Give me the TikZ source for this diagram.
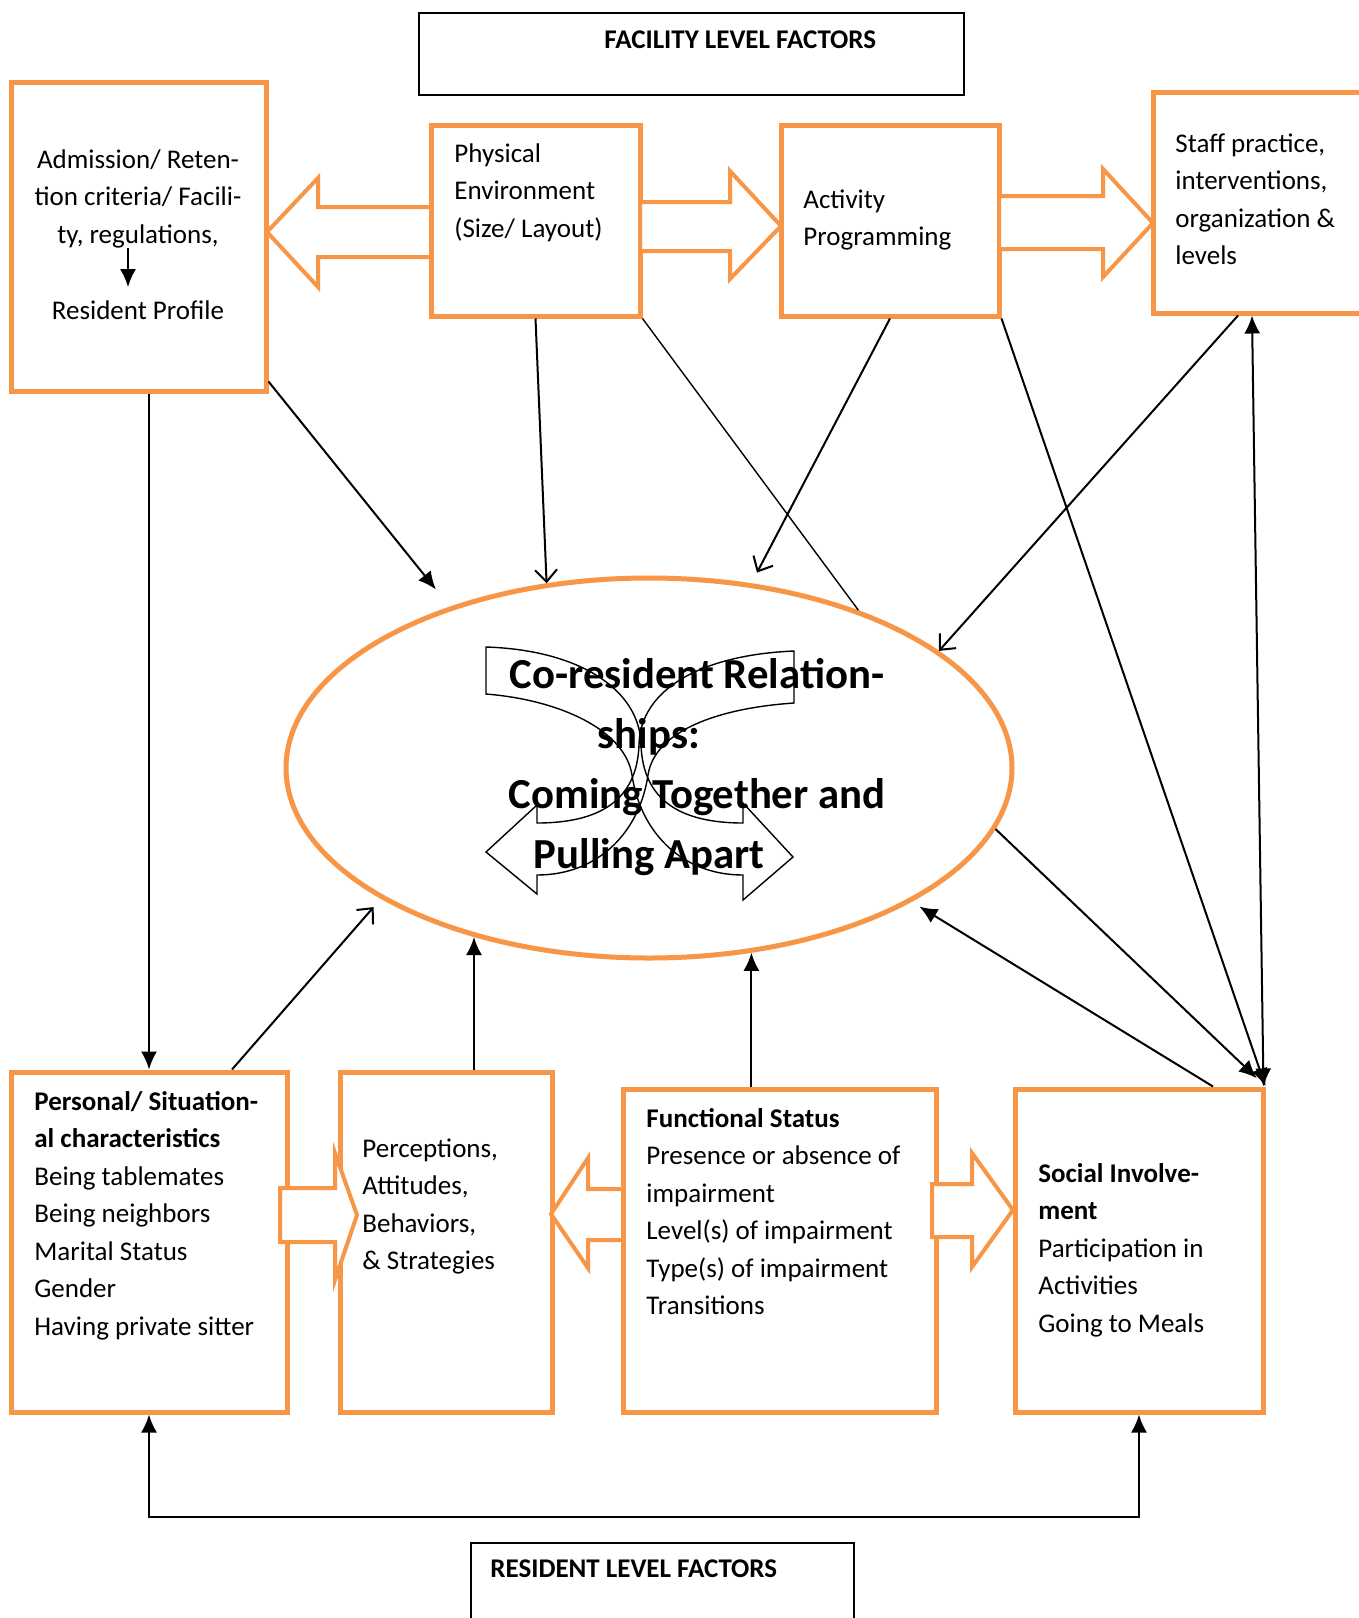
\documentclass[tikz,border=0pt]{standalone}
\usepackage{fontspec}
\setmainfont{Carlito}
\usepackage{xcolor}
\usepackage{tikz}
\definecolor{accent6} {RGB} {247, 150, 70}
\usetikzlibrary{arrows.meta}
\usetikzlibrary{shapes.geometric}
\usetikzlibrary{calc}
\tikzstyle{obox}=[draw=accent6, line width=2.5pt, inner sep=0pt]
\tikzstyle{tbox}=[draw, line width=0.6pt, inner sep=0pt]
\tikzstyle{txt}=[inner sep=0pt, align=left, anchor=north west, font=\fontsize{13.5}{18.75}\selectfont]
\tikzstyle{blk}=[draw=accent6, line width=2pt, fill=white]
\tikzstyle{curvarrow}=[draw, line width=0.7pt]
\tikzstyle{fa}=[->, line width=1pt]
\tikzstyle{oa}=[-{Straight Barb[length=6pt,width=11pt]}, line width=1pt]

\begin{document}
\begin{tikzpicture}[x=0.5pt, y=-0.5pt, >={Latex[length=9pt,width=8pt]}]
  \fill[white] (0,0) rectangle (1359,1618);
  \useasboundingbox (0,0) rectangle (1359,1618);

  \node[tbox, minimum width=272.5pt, minimum height=41pt] (facbox) at (691.5,54) {};
  \node[tbox, minimum width=191.5pt, minimum height=48.5pt] (resbox) at (662.5,1591.5) {};

  \node[obox, minimum width=127.5pt, minimum height=154.5pt] (adm) at (138.5,236.5) {};
  \node[obox, minimum width=104.5pt, minimum height=95.5pt] (phys) at (535.5,220.5) {};
  \node[obox, minimum width=109pt, minimum height=95.5pt] (act) at (890,220.5) {};
  \node[obox, minimum width=113.5pt, minimum height=110.5pt] (staff) at (1266.5,202.5) {};
  \node[obox, ellipse, minimum width=363pt, minimum height=190pt] (core) at (649,768) {};
  \node[obox, minimum width=138pt, minimum height=170pt] (person) at (149,1242) {};
  \node[obox, minimum width=106pt, minimum height=170pt] (perc) at (446,1242) {};
  \node[obox, minimum width=156.5pt, minimum height=161.5pt] (func) at (779.5,1250.5) {};
  \node[obox, minimum width=124pt, minimum height=161.5pt] (social) at (1139,1250.5) {};

  % block arrows
  \draw[blk] (431,207) -- (318,207) -- (318,178) -- (267,232) -- (318,287) -- (318,257) -- (431,257) -- cycle;
  \draw[blk] (640,202) -- (730,202) -- (730,171) -- (781,226) -- (730,279) -- (730,251) -- (640,251) -- cycle;
  \draw[blk] (999,196) -- (1103,196) -- (1103,169) -- (1153,223) -- (1103,277) -- (1103,249) -- (999,249) -- cycle;
  \draw[blk] (280,1188) -- (335,1188) -- (335,1153) -- (357,1215) -- (335,1280) -- (335,1242) -- (280,1242) -- cycle;
  \draw[blk] (623,1189) -- (588,1189) -- (588,1158) -- (551,1214) -- (588,1268) -- (588,1240) -- (623,1240) -- cycle;
  \draw[blk] (932,1184) -- (972,1184) -- (972,1153) -- (1013,1210) -- (972,1267) -- (972,1237) -- (932,1237) -- cycle;

  % crossing arrows in the middle
  \draw[curvarrow] (486,647) .. controls (580,650) and (640,690) .. (641,745) .. controls (643,800) and (680,823) .. (743,823)
    -- (743,803) -- (793,857) -- (743,900) -- (743,875)
    .. controls (680,875) and (640,830) .. (632,775) .. controls (625,730) and (560,700) .. (486,694) -- cycle;
  \draw[curvarrow] (794,651) .. controls (700,655) and (640,690) .. (639,745) .. controls (637,800) and (600,823) .. (537,823)
    -- (537,805) -- (486,852) -- (537,894) -- (537,875)
    .. controls (600,875) and (640,830) .. (648,775) .. controls (655,730) and (720,708) .. (794,703) -- cycle;

  \node[txt, font=\fontsize{13.5}{18.75}\selectfont\bfseries] (factxt) at (604,30) {FACILITY LEVEL FACTORS};
  \node[txt, font=\fontsize{13.5}{18.75}\selectfont\bfseries] (restxt) at (490,1559) {RESIDENT LEVEL FACTORS};
  \node[txt, anchor=north, align=center] (admtxt) at (138,149) {Admission/ Reten-\\tion criteria/ Facili-\\ty, regulations,};
  \node[txt, anchor=center] (prof) at (138,310) {Resident Profile};
  \node[txt] (phystxt) at (454,143) {Physical\\Environment\\(Size/ Layout)};
  \node[txt] (acttxt) at (803,189) {Activity\\Programming};
  \node[txt] (stafftxt) at (1175,133) {Staff practice,\\interventions,\\organization \&\\levels};
  \node[txt] (persontxt) at (34,1091) {\textbf{Personal/ Situation-}\\\textbf{al characteristics}\\Being tablemates\\Being neighbors\\Marital Status\\Gender\\Having private sitter};
  \node[txt] (perctxt) at (362,1138) {Perceptions,\\Attitudes,\\Behaviors,\\\& Strategies};
  \node[txt] (functxt) at (646,1108) {\textbf{Functional Status}\\Presence or absence of\\impairment\\Level(s) of impairment\\Type(s) of impairment\\Transitions};
  \node[txt] (socialtxt) at (1038,1163) {\textbf{Social Involve-}\\\textbf{ment}\\Participation in\\Activities\\Going to Meals};
  \node[anchor=north, inner sep=0pt, align=center, font=\fontsize{21.4}{30}\selectfont\bfseries] (coretxt) at (649,658)
    {\hspace*{48pt}Co-resident Relation-\\ships:\\\hspace*{48pt}Coming Together and\\Pulling Apart};

  \draw[fa, shorten >=6.5pt] ([xshift=-5pt]admtxt.south) -- ([xshift=-5pt]prof.north);
  \draw[fa] (adm.south -| person.north) -- (person.north);
  \draw[fa, shorten >=11pt] ([yshift=6pt]adm.south east) -- (core.141.7);
  \draw[oa] (phys.south) -- (core.119.7);
  \draw[line width=0.7pt] (phys.south east) -- (core.37.3);
  \draw[oa, shorten >=6pt] (act.south) -- (core.61.4);
  \draw[oa] ([xshift=-14.25pt]staff.south) -- (core.22.9);
  \draw[fa] (act.south east) -- (social.north east);
  \draw[fa, <->] ([xshift=-7.25pt]staff.south) -- ([xshift=-1pt]social.north east);
  \draw[fa, shorten >=6pt] (core.350.6) -- (social.north east);
  \draw[fa, shorten >=4.5pt] ([xshift=37pt]social.north) -- (core.333.9);
  \draw[fa] (core.299.2 |- func.north) -- (core.299.2);
  \draw[fa] (core.224 |- perc.north) -- (core.224);
  \draw[oa, shorten >=5.5pt] ([xshift=41.5pt]person.north) -- (core.206.5);
  \draw[fa, <->] (person.south) -- ++(0,102) -| (social.south);
\end{tikzpicture}
\end{document}
